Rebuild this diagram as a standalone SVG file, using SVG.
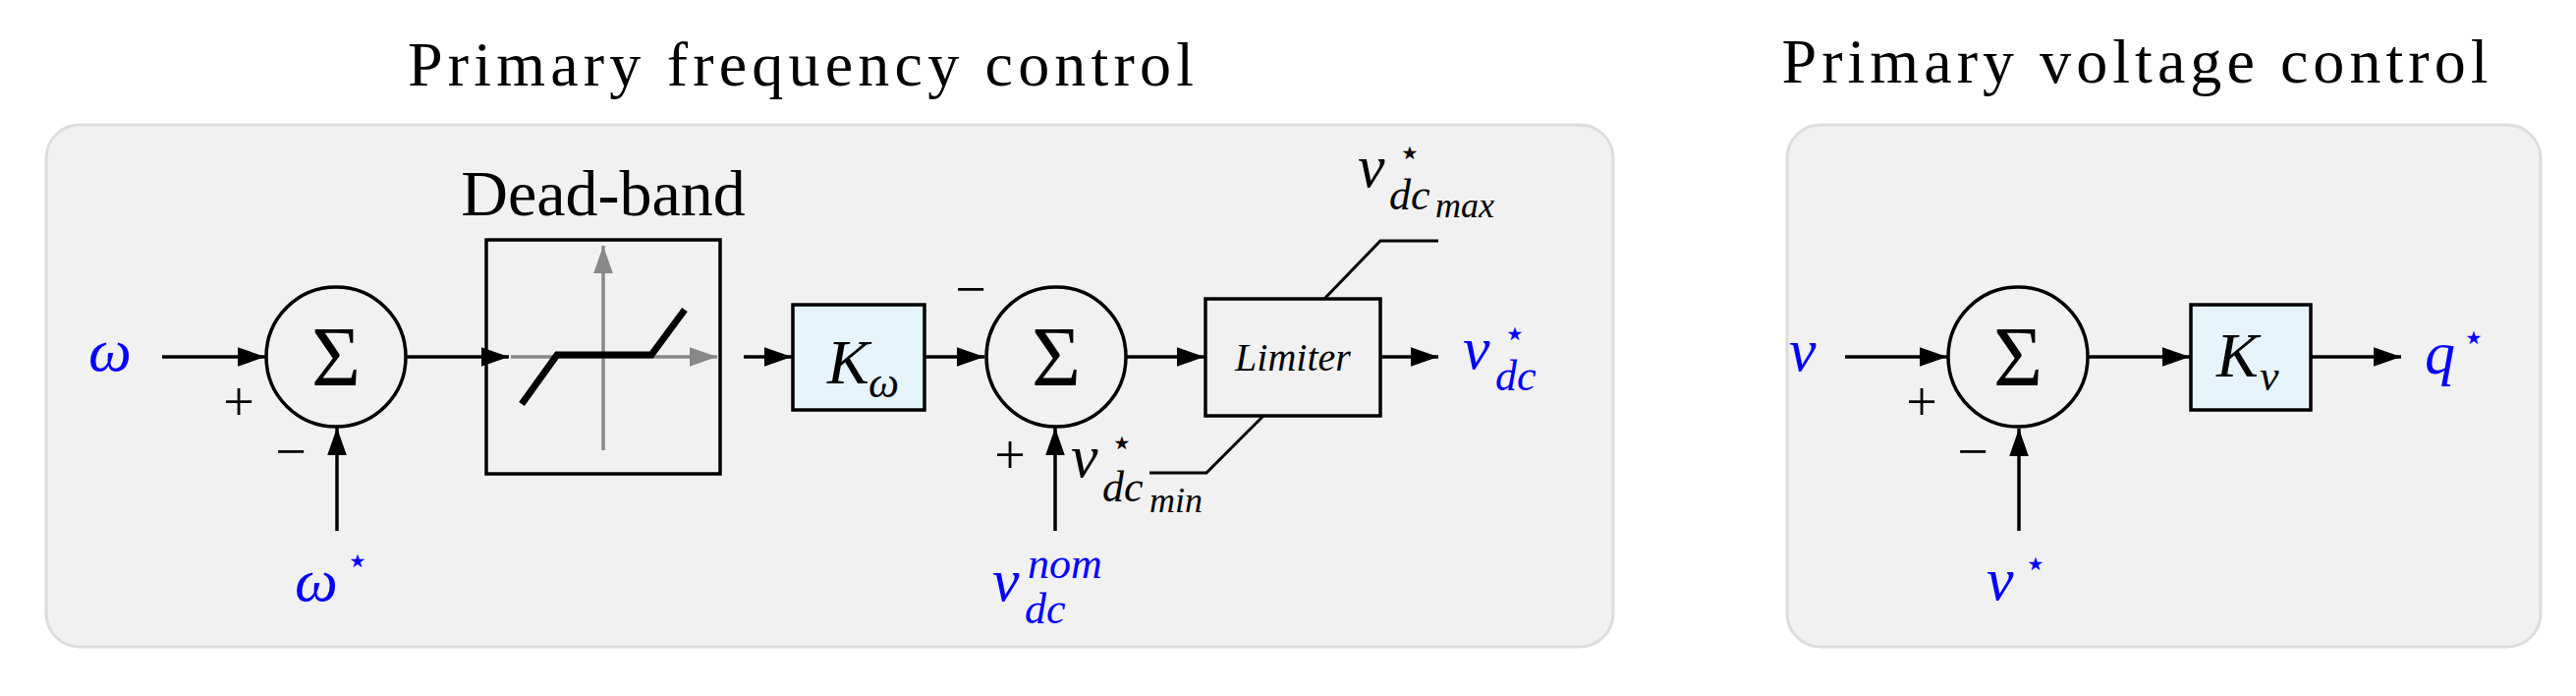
<svg xmlns="http://www.w3.org/2000/svg" width="2622" height="708" viewBox="0 0 2622 708">
<style>
.panel{fill:#f1f1f1;stroke:#dcdcdc;stroke-width:3}
.ln{stroke:#000;stroke-width:3.5;fill:none}
.box{fill:none;stroke:#000;stroke-width:3.5}
.kbox{fill:#e6f5fc;stroke:#000;stroke-width:3.5}
.sum{fill:none;stroke:#000;stroke-width:3.5}
text{font-family:"Liberation Serif","DejaVu Serif",serif}
.t{font-size:64px}
.m{font-style:italic;font-size:62px}
.b{fill:#0000ff}
.sg{font-size:86px;text-anchor:middle}
.sign{font-size:56px;text-anchor:middle}
.sub{font-style:italic;font-size:44px}
.star{font-size:38px}
</style>
<defs>
<marker id="ar" viewBox="0 0 10 10" refX="10" refY="5" markerWidth="9" markerHeight="9" markerUnits="userSpaceOnUse" orient="auto">
<path d="M0,0L10,5L0,10z" fill="#000"/>
</marker>
<marker id="a" viewBox="0 0 10 10" refX="10" refY="5" markerWidth="8" markerHeight="8" orient="auto"><path d="M0,1.5L10,5L0,8.5z" fill="#000"/></marker>
<marker id="ag" viewBox="0 0 10 10" refX="10" refY="5" markerWidth="8" markerHeight="8" orient="auto"><path d="M0,1.5L10,5L0,8.5z" fill="#888"/></marker>
</defs>
<rect class="panel" x="47" y="127" width="1595" height="531" rx="34"/>
<rect class="panel" x="1819" y="127" width="1766" height="0" style="display:none"/>
<rect class="panel" x="1819" y="127" width="767" height="531" rx="34"/>
<text class="t" x="815" y="87" text-anchor="middle" textLength="800">Primary frequency control</text>
<text class="t" x="2173" y="84" text-anchor="middle" textLength="719">Primary voltage control</text>

<g id="connectors">
<line class="ln" x1="165" y1="363" x2="270" y2="363" marker-end="url(#a)"/>
<line class="ln" x1="343" y1="540" x2="343" y2="435" marker-end="url(#a)"/>
<line class="ln" x1="413" y1="363" x2="518" y2="363" marker-end="url(#a)"/>
<line class="ln" x1="757" y1="363" x2="806" y2="363" marker-end="url(#a)"/>
<line class="ln" x1="941" y1="363" x2="1002" y2="363" marker-end="url(#a)"/>
<line class="ln" x1="1074" y1="540" x2="1074" y2="435" marker-end="url(#a)"/>
<line class="ln" x1="1146" y1="363" x2="1226" y2="363" marker-end="url(#a)"/>
<line class="ln" x1="1405" y1="363" x2="1464" y2="363" marker-end="url(#a)"/>
<polyline class="ln" points="1348,304 1405,245 1464,245" style="stroke-width:3"/>
<polyline class="ln" points="1286,423 1228,481 1170,481" style="stroke-width:3"/>
<line class="ln" x1="1878" y1="363" x2="1982" y2="363" marker-end="url(#a)"/>
<line class="ln" x1="2055" y1="540" x2="2055" y2="436" marker-end="url(#a)"/>
<line class="ln" x1="2125" y1="363" x2="2229" y2="363" marker-end="url(#a)"/>
<line class="ln" x1="2352" y1="363" x2="2444" y2="363" marker-end="url(#a)"/>
</g>

<g id="in-omega"><text class="m b" x="90" y="377">ω</text></g>
<g id="sum1">
<circle class="sum" cx="342" cy="363" r="71"/>
<text class="sg" x="342" y="392">Σ</text>
<text class="sign" x="243" y="428">+</text>
<text class="sign" x="296" y="478">−</text>
</g>
<g id="in-omega-star"><text class="m b" x="300" y="611">ω</text><text class="star b" x="352" y="583">⋆</text></g>
<g id="deadband">
<text class="t" x="614" y="219" text-anchor="middle" style="font-size:66px">Dead-band</text>
<rect class="box" x="495" y="244" width="238" height="238"/>
<line x1="614" y1="458" x2="614" y2="250" stroke="#888" stroke-width="3.5" marker-end="url(#ag)"/>
<line x1="520" y1="363" x2="730" y2="363" stroke="#888" stroke-width="3.5" marker-end="url(#ag)"/>
<polyline points="531,411 567,361 663,361 697,315" fill="none" stroke="#000" stroke-width="7"/>
</g>
<g id="k-omega">
<rect class="kbox" x="807" y="310" width="134" height="107"/>
<text class="m" x="842" y="390" style="font-size:64px">K</text><text class="sub" x="884" y="404">ω</text>
</g>
<g id="sum2">
<circle class="sum" cx="1075" cy="363" r="71"/>
<text class="sg" x="1075" y="392">Σ</text>
<text class="sign" x="988" y="313">−</text>
<text class="sign" x="1028" y="482">+</text>
</g>
<g id="limiter">
<rect class="box" x="1227" y="304" width="178" height="119"/>
<text x="1316" y="377" text-anchor="middle" style="font-style:italic;font-size:40px">Limiter</text>
</g>
<g id="vdcmax"><text class="m" x="1382" y="190">v</text><text class="star" x="1423" y="168">⋆</text><text class="sub" x="1414" y="213">dc</text><text class="sub" x="1461" y="221" style="font-size:36px">max</text></g>
<g id="vdcmin"><text class="m" x="1090" y="485">v</text><text class="star" x="1130" y="463">⋆</text><text class="sub" x="1122" y="510">dc</text><text class="sub" x="1170" y="521" style="font-size:36px">min</text></g>
<g id="vdc-nom"><text class="m b" x="1010" y="611">v</text><text class="sub b" x="1046" y="588">nom</text><text class="sub b" x="1043" y="634">dc</text></g>
<g id="vdc-star"><text class="m b" x="1489" y="375">v</text><text class="star b" x="1530" y="352">⋆</text><text class="sub b" x="1522" y="397">dc</text></g>

<g id="in-v"><text class="m b" x="1821" y="377">v</text></g>
<g id="sum3">
<circle class="sum" cx="2054" cy="363" r="71"/>
<text class="sg" x="2054" y="392">Σ</text>
<text class="sign" x="1956" y="428">+</text>
<text class="sign" x="2008" y="478">−</text>
</g>
<g id="in-v-star"><text class="m b" x="2022" y="610">v</text><text class="star b" x="2060" y="586">⋆</text></g>
<g id="k-v">
<rect class="kbox" x="2230" y="310" width="122" height="107"/>
<text class="m" x="2256" y="383" style="font-size:64px">K</text><text class="sub" x="2300" y="397">v</text>
</g>
<g id="q-star"><text class="m b" x="2468" y="380">q</text><text class="star b" x="2506" y="356">⋆</text></g>
</svg>
